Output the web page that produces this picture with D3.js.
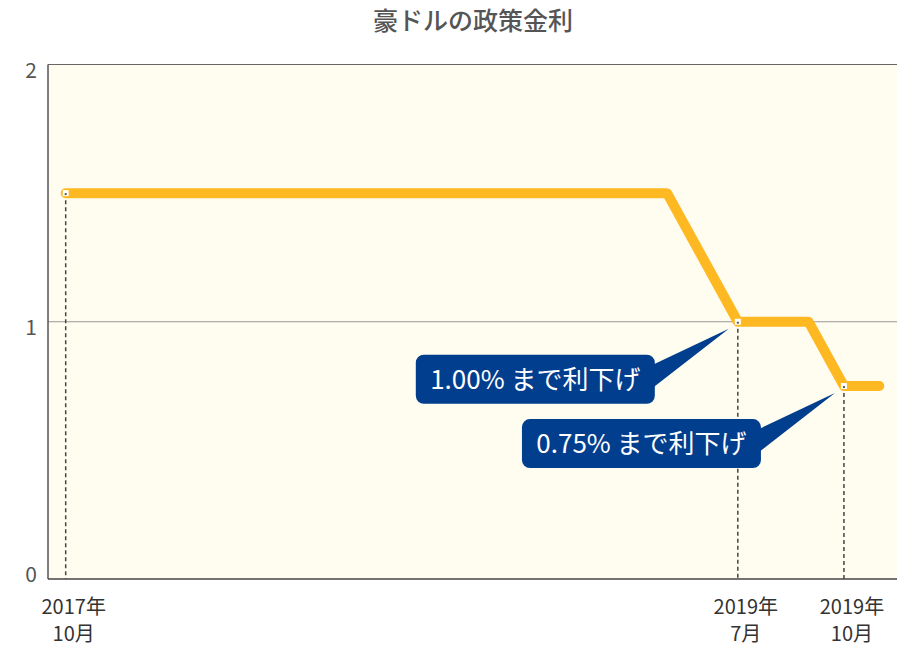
<!DOCTYPE html>
<html>
<head>
<meta charset="utf-8">
<script src="https://cdn.jsdelivr.net/npm/d3@7"></script>
<style>
  body { margin: 0; background: #fff; }
  svg { font-family: "Noto Sans CJK JP", "Noto Sans", sans-serif; }
</style>
</head>
<body>
<svg id="chart" width="920" height="650"></svg>
<script>
// RBA meetings (no meeting in January)
const meetings = [
  '2017-10', '2017-11', '2017-12',
  '2018-02', '2018-03', '2018-04', '2018-05', '2018-06', '2018-07',
  '2018-08', '2018-09', '2018-10', '2018-11', '2018-12',
  '2019-02', '2019-03', '2019-04', '2019-05', '2019-06', '2019-07',
  '2019-08', '2019-09', '2019-10', '2019-11'
];
const rates = [
  1.5, 1.5, 1.5,
  1.5, 1.5, 1.5, 1.5, 1.5, 1.5,
  1.5, 1.5, 1.5, 1.5, 1.5,
  1.5, 1.5, 1.5, 1.5, 1.25, 1.0,
  1.0, 1.0, 0.75, 0.75
];
const yTicks = [0, 1, 2];
const markedMonths = ['2017-10', '2019-07', '2019-10'];
const markedLabels = [['2017年', '10月'], ['2019年', '7月'], ['2019年', '10月']];
const calloutMonths = ['2019-07', '2019-10'];
const calloutTexts = ['1.00% まで利下げ', '0.75% まで利下げ'];

const svg = d3.select('#chart');
const pLeft = 48, pRight = 897, pTop = 64.5, pBottom = 579;

const x = d3.scalePoint().domain(meetings).range([pLeft, pRight]).padding(0.5);
const y = d3.scaleLinear().domain([0, 2]).range([pBottom, pTop]);

const points = meetings.map((m, i) => ({ m, v: rates[i] }));
const rateAt = m => rates[meetings.indexOf(m)];

// title
svg.append('text')
  .attr('x', 473).attr('y', 30)
  .attr('text-anchor', 'middle')
  .attr('font-size', 25)
  .attr('font-weight', 500)
  .attr('fill', '#555')
  .text('豪ドルの政策金利');

// plot background
svg.append('rect')
  .attr('x', pLeft).attr('y', pTop)
  .attr('width', pRight - pLeft).attr('height', pBottom - pTop)
  .attr('fill', '#fffcf0');

// grid line at 1
svg.append('line')
  .attr('x1', pLeft).attr('x2', pRight)
  .attr('y1', y(1)).attr('y2', y(1))
  .attr('stroke', '#999').attr('stroke-width', 1.2);

// top border, left axis, bottom axis
svg.append('line')
  .attr('x1', pLeft).attr('x2', pRight)
  .attr('y1', pTop).attr('y2', pTop)
  .attr('stroke', '#666').attr('stroke-width', 1.2);
svg.append('line')
  .attr('x1', pLeft).attr('x2', pLeft)
  .attr('y1', pTop).attr('y2', pBottom)
  .attr('stroke', '#555').attr('stroke-width', 1.5);
svg.append('line')
  .attr('x1', pLeft).attr('x2', pRight)
  .attr('y1', pBottom).attr('y2', pBottom)
  .attr('stroke', '#444').attr('stroke-width', 1.5);

// y labels
svg.append('g')
  .selectAll('text')
  .data(yTicks)
  .join('text')
    .attr('x', 37)
    .attr('y', d => Math.min(y(d) + 6, pBottom - 4))
    .attr('dy', '0.35em')
    .attr('text-anchor', 'end')
    .attr('font-size', 21)
    .attr('fill', '#555')
    .text(d => d);

// dashed drop lines
svg.append('g')
  .selectAll('line')
  .data(markedMonths)
  .join('line')
    .attr('x1', d => x(d)).attr('x2', d => x(d))
    .attr('y1', d => y(rateAt(d)))
    .attr('y2', pBottom)
    .attr('stroke', '#444')
    .attr('stroke-width', 1.5)
    .attr('stroke-dasharray', '4,3');

// x labels
const xl = svg.append('g')
  .selectAll('text')
  .data(markedMonths)
  .join('text')
    .attr('text-anchor', 'middle')
    .attr('font-size', 20)
    .attr('fill', '#333')
    .attr('transform', d => `translate(${x(d) + 8},0)`);
xl.append('tspan').attr('x', 0).attr('y', 614).text((d, i) => markedLabels[i][0]);
xl.append('tspan').attr('x', 0).attr('y', 641).text((d, i) => markedLabels[i][1]);

// rate line
svg.append('path')
  .datum(points)
  .attr('fill', 'none')
  .attr('stroke', '#feb821')
  .attr('stroke-width', 10)
  .attr('stroke-linecap', 'round')
  .attr('stroke-linejoin', 'round')
  .attr('d', d3.line().x(d => x(d.m)).y(d => y(d.v)));

// markers
const mk = svg.append('g')
  .selectAll('g')
  .data(markedMonths)
  .join('g')
    .attr('transform', d => `translate(${x(d)},${y(rateAt(d))})`);
mk.append('rect')
  .attr('x', -3).attr('y', -3).attr('width', 6).attr('height', 6)
  .attr('fill', '#fff');
mk.append('rect')
  .attr('x', -1).attr('y', 0).attr('width', 2).attr('height', 2)
  .attr('fill', '#555');

// callouts
const bw = 239, bh = 49;
const co = svg.append('g')
  .selectAll('g')
  .data(calloutMonths)
  .join('g')
    .attr('transform', d => `translate(${x(d)},${y(rateAt(d))})`);
co.append('path')
  .attr('fill', '#023e8e')
  .attr('d', 'M-85,43 L-9,7 L-85,66 Z');
co.append('rect')
  .attr('x', -83 - bw).attr('y', 33)
  .attr('width', bw).attr('height', bh)
  .attr('rx', 8)
  .attr('fill', '#023e8e');
co.append('text')
  .attr('x', -83 - bw / 2).attr('y', 33 + bh / 2)
  .attr('dy', '0.36em')
  .attr('text-anchor', 'middle')
  .attr('font-size', 26)
  .attr('fill', '#fff')
  .text((d, i) => calloutTexts[i]);
</script>
</body>
</html>
